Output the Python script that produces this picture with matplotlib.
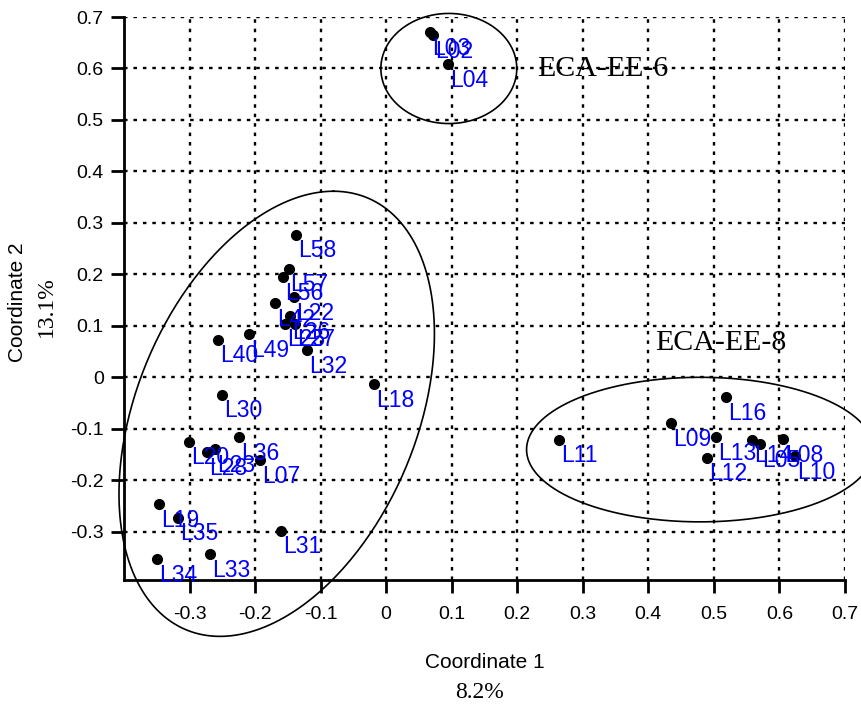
import matplotlib.pyplot as plt
import numpy as np

SANS = "Liberation Sans"
SERIF = "Liberation Serif"

labels = ["L58", "L57", "L56", "L22", "L42", "L26", "L25", "L27", "L49", "L40", "L32", "L18",
          "L30", "L36", "L20", "L28", "L23", "L07", "L19", "L35", "L31", "L33", "L34",
          "L03", "L02", "L04",
          "L11", "L09", "L16", "L13", "L12", "L14", "L05", "L08", "L10"]
coord1 = [-0.137, -0.149, -0.157, -0.141, -0.169, -0.146, -0.154, -0.139, -0.209, -0.257, -0.121, -0.018,
          -0.251, -0.225, -0.301, -0.273, -0.261, -0.193, -0.346, -0.318, -0.161, -0.269, -0.349,
          0.067, 0.071, 0.095,
          0.263, 0.434, 0.518, 0.503, 0.490, 0.558, 0.570, 0.606, 0.624]
coord2 = [0.277, 0.211, 0.195, 0.156, 0.144, 0.119, 0.104, 0.104, 0.084, 0.073, 0.053, -0.013,
          -0.034, -0.116, -0.125, -0.146, -0.140, -0.161, -0.247, -0.273, -0.298, -0.344, -0.354,
          0.670, 0.665, 0.609,
          -0.121, -0.089, -0.039, -0.116, -0.156, -0.121, -0.130, -0.120, -0.153]

xticks = [-0.3, -0.2, -0.1, 0, 0.1, 0.2, 0.3, 0.4, 0.5, 0.6, 0.7]
xtick_labels = ["-0.3", "-0.2", "-0.1", "0", "0.1", "0.2", "0.3", "0.4", "0.5", "0.6", "0.7"]
yticks = [-0.3, -0.2, -0.1, 0, 0.1, 0.2, 0.3, 0.4, 0.5, 0.6, 0.7]
ytick_labels = ["-0.3", "-0.2", "-0.1", "0", "0.1", "0.2", "0.3", "0.4", "0.5", "0.6", "0.7"]

# group outlines: centre and two conjugate half-axes, in data units
ellipses = [
    ((-0.167, -0.071), (0.0866, 0.4325), (0.2245, 0.0)),
    ((0.0956, 0.600), (0.1037, 0.0), (0.0, 0.107)),
    ((0.479, -0.1405), (0.2648, 0.0), (0.0, 0.1405)),
]
groups = ["ECA-EE-6", "ECA-EE-8"]
group_x = [0.231, 0.410]
group_y = [0.585, 0.053]

fig = plt.figure(figsize=(8.61, 7.04), dpi=100)
ax = fig.add_axes([0.1440, 0.1761, 0.8374, 0.7997])

ax.set_xlim(-0.40, 0.70)
ax.set_ylim(-0.394, 0.70)
ax.set_axisbelow(True)
ax.grid(True, color="black", linestyle=(0, (1.5, 2.5)), linewidth=1.7)

for s in ["top", "right"]:
    ax.spines[s].set_visible(False)
for s in ["left", "bottom"]:
    ax.spines[s].set_linewidth(2)

ax.set_xticks(xticks)
ax.set_xticklabels(xtick_labels, fontfamily=SANS, fontsize=14)
ax.set_yticks(yticks)
ax.set_yticklabels(ytick_labels, fontfamily=SANS, fontsize=14)
ax.tick_params(axis="both", direction="out", length=9.5, width=2)
ax.tick_params(axis="x", pad=9)
ax.tick_params(axis="y", pad=5)

ax.plot(coord1, coord2, "o", color="black", markersize=7, zorder=3)
for lab, x, y in zip(labels, coord1, coord2):
    ax.annotate(lab, (x, y), xytext=(1.5, -16.3), textcoords="offset points",
                ha="left", va="baseline", color="#0000ff", fontfamily=SANS, fontsize=16.5,
                zorder=4, annotation_clip=False)

t = np.linspace(0, 2 * np.pi, 400)
for (cx, cy), u, v in ellipses:
    ax.plot(cx + u[0] * np.cos(t) + v[0] * np.sin(t),
            cy + u[1] * np.cos(t) + v[1] * np.sin(t),
            color="black", linewidth=1.2, clip_on=False, zorder=2)

for name, x, y in zip(groups, group_x, group_y):
    ax.text(x, y, name, ha="left", va="baseline", fontfamily=SERIF, fontsize=21.5)

fig.text(485 / 861, 1 - 662 / 704, "Coordinate 1", ha="center", va="center",
         fontfamily=SANS, fontsize=15)
fig.text(480 / 861, 1 - 693 / 704, "8.2%", ha="center", va="center",
         fontfamily=SERIF, fontsize=17)
fig.text(18 / 861, 1 - 302 / 704, "Coordinate 2", ha="center", va="center",
         rotation=90, fontfamily=SANS, fontsize=15)
fig.text(46 / 861, 1 - 307 / 704, "13.1%", ha="center", va="center",
         rotation=90, fontfamily=SERIF, fontsize=17)

fig.savefig("out.png", dpi=100)
